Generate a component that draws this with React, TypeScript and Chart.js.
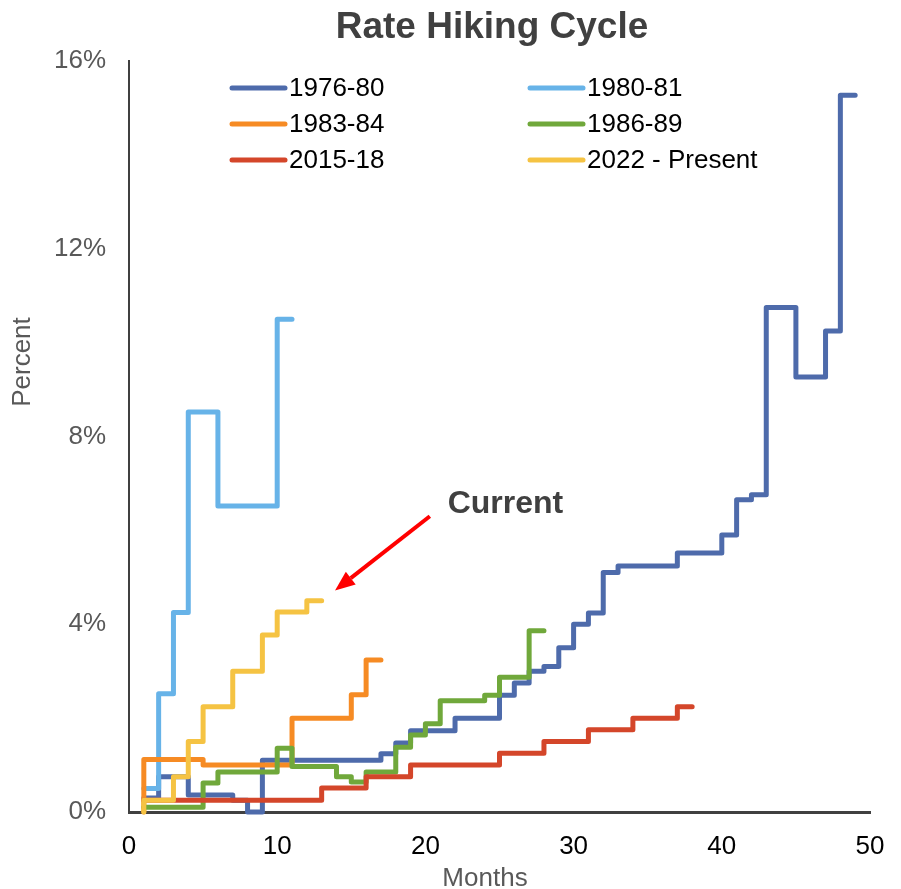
import React, { useEffect, useRef } from "react";
import { Chart, registerables } from "chart.js";

Chart.register(...registerables);

// ---- data (months since start of cycle, fed funds %) ----
const seriesLabels = ["1976-80", "1980-81", "1983-84", "1986-89", "2015-18", "2022 - Present"];
const seriesColors = ["#4E6BAB", "#67B3E8", "#F68B24", "#70A83B", "#D4462A", "#F5C343"];

const months7680 = [1, 2, 4, 7, 8, 9, 17, 18, 19, 22, 25, 26, 27, 28, 29, 30, 31, 32, 33, 37, 40, 41, 42, 43, 45, 47, 48, 49];
const rates7680 = [0.3, 0.75, 0.36, 0.25, 0.0, 1.1, 1.24, 1.47, 1.73, 2.0, 2.49, 2.75, 3.0, 3.1, 3.5, 4.0, 4.24, 5.1, 5.24, 5.52, 5.9, 6.65, 6.76, 10.75, 9.27, 10.25, 15.27, 15.27];

const months8081 = [1, 2, 3, 4, 6, 10, 11];
const rates8081 = [0.5, 2.52, 4.25, 8.52, 6.52, 10.5, 10.5];

const months8384 = [1, 1, 5, 11, 15, 16, 17];
const rates8384 = [0.0, 1.12, 1.0, 2.0, 2.5, 3.24, 3.24];

const months8689 = [1, 5, 6, 10, 11, 14, 15, 16, 18, 19, 20, 21, 24, 25, 27, 28];
const rates8689 = [0.1, 0.62, 0.85, 1.36, 0.97, 0.75, 0.64, 0.85, 1.38, 1.64, 1.88, 2.37, 2.49, 2.87, 3.86, 3.86];

const months1518 = [1, 13, 16, 19, 25, 28, 31, 34, 37, 38];
const rates1518 = [0.25, 0.51, 0.75, 1.0, 1.25, 1.5, 1.75, 2.0, 2.24, 2.24];

const months22 = [1, 1, 3, 4, 5, 7, 9, 10, 12, 13];
const rates22 = [0.0, 0.25, 0.75, 1.5, 2.24, 3.0, 3.77, 4.26, 4.5, 4.5];

const xTickValues = [0, 10, 20, 30, 40, 50];
const yTickValues = [0, 4, 8, 12, 16];

// annotation anchor (in data units)
const currentLabel = { month: 21.5, rate: 6.55, text: "Current" };
const arrowFrom = { month: 20.3, rate: 6.3 };
const arrowTo = { month: 13.9, rate: 4.72 };

const FONT = "'Liberation Sans', Arial, Helvetica, sans-serif";

function toPoints(m: number[], r: number[]) {
  return m.map((x, i) => ({ x, y: r[i] }));
}

const allMonths = [months7680, months8081, months8384, months8689, months1518, months22];
const allRates = [rates7680, rates8081, rates8384, rates8689, rates1518, rates22];

const overlayPlugin = {
  id: "overlay",
  afterDraw(chart: any) {
    const { ctx, chartArea, scales } = chart;
    const xs = scales.x;
    const ys = scales.y;
    ctx.save();

    // Title
    ctx.fillStyle = "#404040";
    ctx.font = `bold 37px ${FONT}`;
    ctx.textAlign = "center";
    ctx.textBaseline = "middle";
    ctx.fillText("Rate Hiking Cycle", 492, 28);

    // Axis titles
    ctx.fillStyle = "#595959";
    ctx.font = `26px ${FONT}`;
    ctx.fillText("Months", 485, 879);
    ctx.save();
    ctx.translate(23, 362);
    ctx.rotate(-Math.PI / 2);
    ctx.fillText("Percent", 0, 0);
    ctx.restore();

    // Legend (2 columns x 3 rows)
    const ds = chart.data.datasets;
    const colX = [chartArea.left + 103, chartArea.left + 401];
    const rowY = [chartArea.top + 27, chartArea.top + 63, chartArea.top + 99];
    ctx.font = `26px ${FONT}`;
    ctx.textAlign = "left";
    ctx.textBaseline = "middle";
    ds.forEach((d: any, i: number) => {
      const cx = colX[i % 2];
      const cy = rowY[Math.floor(i / 2)];
      ctx.strokeStyle = d.borderColor;
      ctx.lineWidth = 5;
      ctx.lineCap = "round";
      ctx.beginPath();
      ctx.moveTo(cx, cy);
      ctx.lineTo(cx + 53, cy);
      ctx.stroke();
      ctx.fillStyle = "#000000";
      ctx.fillText(d.label, cx + 57, cy + 1);
    });

    // "Current" annotation
    ctx.fillStyle = "#404040";
    ctx.font = `bold 32px ${FONT}`;
    ctx.textAlign = "left";
    ctx.fillText(currentLabel.text, xs.getPixelForValue(currentLabel.month), ys.getPixelForValue(currentLabel.rate));

    const x1 = xs.getPixelForValue(arrowFrom.month);
    const y1 = ys.getPixelForValue(arrowFrom.rate);
    const x2 = xs.getPixelForValue(arrowTo.month);
    const y2 = ys.getPixelForValue(arrowTo.rate);
    const ang = Math.atan2(y2 - y1, x2 - x1);
    const headLen = 20;
    const headW = 8;
    const bx = x2 - headLen * Math.cos(ang);
    const by = y2 - headLen * Math.sin(ang);
    ctx.strokeStyle = "#FF0000";
    ctx.fillStyle = "#FF0000";
    ctx.lineWidth = 4;
    ctx.lineCap = "butt";
    ctx.beginPath();
    ctx.moveTo(x1, y1);
    ctx.lineTo(bx, by);
    ctx.stroke();
    ctx.beginPath();
    ctx.moveTo(x2, y2);
    ctx.lineTo(bx + headW * Math.sin(ang), by - headW * Math.cos(ang));
    ctx.lineTo(bx - headW * Math.sin(ang), by + headW * Math.cos(ang));
    ctx.closePath();
    ctx.fill();

    ctx.restore();
  },
};

export default function App() {
  const canvasRef = useRef<HTMLCanvasElement | null>(null);

  useEffect(() => {
    if (!canvasRef.current) return;
    const datasets = seriesLabels.map((label, i) => ({
      label,
      data: toPoints(allMonths[i], allRates[i]),
      borderColor: seriesColors[i],
      backgroundColor: seriesColors[i],
      borderWidth: 5,
      stepped: "before" as const,
      pointRadius: 0,
      pointHoverRadius: 0,
      fill: false,
      borderCapStyle: "round" as const,
      borderJoinStyle: "round" as const,
      clip: false as const,
      order: seriesLabels.length - i,
    }));

    const chart = new Chart(canvasRef.current, {
      type: "line",
      data: { datasets },
      options: {
        animation: false,
        responsive: false,
        maintainAspectRatio: false,
        events: [],
        layout: { padding: { top: 61, right: 31, left: 0, bottom: 0 } },
        plugins: {
          legend: { display: false },
          title: { display: false },
          tooltip: { enabled: false },
        },
        scales: {
          x: {
            type: "linear",
            min: 0,
            max: 50,
            afterBuildTicks: (s: any) => {
              s.ticks = xTickValues.map((v) => ({ value: v }));
            },
            afterFit: (s: any) => {
              s.height = 77;
              s.paddingLeft = 0;
              s.paddingRight = 0;
            },
            grid: { display: false, drawTicks: false },
            border: { display: true, color: "#404040", width: 3 },
            ticks: {
              padding: 19,
              color: "#000000",
              font: { family: FONT, size: 26 },
              maxRotation: 0,
            },
          },
          y: {
            type: "linear",
            min: 0,
            max: 16,
            afterBuildTicks: (s: any) => {
              s.ticks = yTickValues.map((v) => ({ value: v }));
            },
            afterFit: (s: any) => {
              s.width = 129;
              s.paddingTop = 0;
              s.paddingBottom = 0;
            },
            grid: { display: false, drawTicks: false },
            border: { display: true, color: "#404040", width: 2 },
            ticks: {
              padding: 23,
              color: "#595959",
              font: { family: FONT, size: 26 },
              callback: (v: any) => `${v}%`,
            },
          },
        },
      },
      plugins: [overlayPlugin],
    });
    return () => chart.destroy();
  }, []);

  return (
    <div style={{ position: "fixed", left: 0, top: 0, width: 901, height: 889, background: "#ffffff" }}>
      <canvas ref={canvasRef} width={901} height={889} style={{ width: 901, height: 889, display: "block" }} />
    </div>
  );
}
